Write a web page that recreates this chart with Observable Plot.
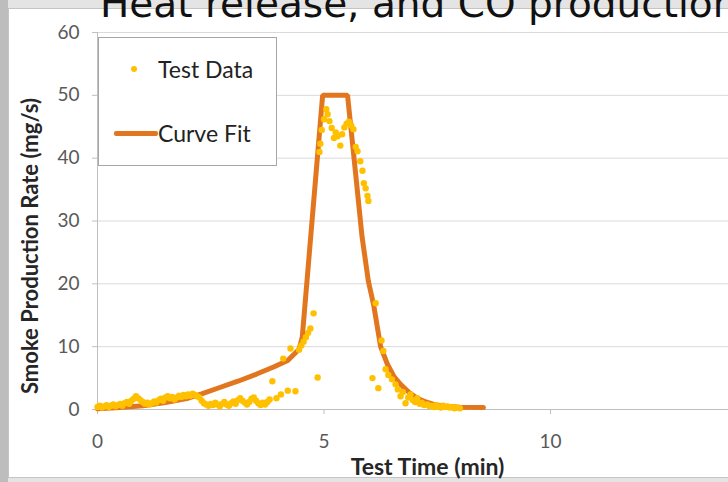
<!DOCTYPE html>
<html><head><meta charset="utf-8">
<script src="https://cdn.jsdelivr.net/npm/d3@7"></script>
<script src="https://cdn.jsdelivr.net/npm/@observablehq/plot@0.6"></script>
<style>
html,body{margin:0;padding:0;background:#fff;}
#wrap{position:relative;width:728px;height:482px;overflow:hidden;background:#e4e4e4;font-family:Lato,sans-serif;}
#strip{position:absolute;left:0;top:0;width:8px;height:482px;background:#bdbdbd;}
#panel{position:absolute;left:8px;top:8px;width:740px;height:468px;background:#fff;border:1px solid #c4c4c4;}
#chart{position:absolute;left:0;top:0;}
#chart svg{max-width:none !important;}
#title{position:absolute;left:100px;top:-16px;font-family:"DejaVu Sans",sans-serif;font-size:39px;line-height:39px;white-space:nowrap;color:#111;}
#legend{position:absolute;left:98px;top:37px;width:179px;height:129px;background:#fff;border:1px solid #a6a6a6;box-sizing:border-box;font-size:23px;color:#222;}
#legend .dot{position:absolute;left:32px;top:28px;width:6px;height:6px;border-radius:50%;background:#FFC000;}
#legend .line{position:absolute;left:15px;top:93px;width:44px;height:5px;background:#E2761F;border-radius:2px;}
#legend .t1{position:absolute;left:59px;top:17px;line-height:28px;white-space:nowrap;}
#legend .t2{position:absolute;left:59px;top:81px;line-height:28px;white-space:nowrap;}
</style></head>
<body>
<div id="wrap">
  <div id="strip"></div>
  <div id="panel"></div>
  <div id="chart"></div>
  <div id="legend"><div class="dot"></div><div class="t1"></div><div class="line"></div><div class="t2"></div></div>
  <div id="title"></div>
</div>
<script>
const titleText = "Heat release, and CO production";
const xLabel = "Test Time (min)";
const yLabel = "Smoke Production Rate (mg/s)";
const seriesNames = ["Test Data", "Curve Fit"];
const xTicks = [0, 5, 10];
const yTicks = [0, 10, 20, 30, 40, 50, 60];

// Test data (min, mg/s)
const testTime = [0.00,0.05,0.10,0.15,0.20,0.25,0.30,0.35,0.40,0.45,0.50,0.55,0.60,0.65,0.70,0.75,0.80,0.85,0.90,0.95,
  1.00,1.05,1.10,1.15,1.20,1.25,1.30,1.35,1.40,1.45,1.50,1.55,1.60,1.65,1.70,1.75,1.80,1.85,1.90,1.95,
  2.00,2.05,2.10,2.15,2.20,2.25,2.30,2.35,2.40,2.45,2.50,2.55,2.60,2.65,2.70,2.75,2.80,2.85,2.90,2.95,
  3.00,3.05,3.10,3.15,3.20,3.25,3.30,3.35,3.40,3.45,3.50,3.55,3.60,3.65,3.70,3.75,3.80,3.86,3.95,4.05,
  4.10,4.20,4.26,4.37,4.45,4.50,4.55,4.60,4.65,4.70,4.77,4.86,4.90,4.92,4.95,5.00,5.05,5.08,5.12,5.17,
  5.22,5.26,5.30,5.36,5.40,5.45,5.50,5.55,5.60,5.65,5.70,5.74,5.80,5.85,5.88,5.92,5.96,5.98,6.07,6.14,
  6.20,6.27,6.31,6.36,6.42,6.50,6.58,6.63,6.69,6.74,6.80,6.86,6.91,6.96,7.01,7.06,7.11,7.16,7.21,7.28,
  7.33,7.38,7.43,7.48,7.53,7.58,7.63,7.68,7.73,7.78,7.83,7.88,7.93,8.00];
const testRate = [0.4,0.6,0.3,0.5,0.7,0.4,0.6,0.8,0.5,0.7,0.9,0.6,1.0,1.2,0.9,1.4,1.7,2.1,1.8,1.5,
  1.2,0.9,1.1,0.8,1.0,1.3,1.1,1.5,1.7,1.4,1.9,2.1,1.8,2.0,1.6,1.9,2.2,2.0,2.3,2.1,
  2.4,2.2,2.5,2.3,2.1,1.9,1.4,1.0,0.8,0.6,0.9,0.7,1.1,0.8,0.5,0.9,1.2,0.8,0.6,1.0,
  1.3,0.9,1.5,1.8,1.4,1.1,0.8,1.2,1.7,1.9,1.4,1.0,0.7,1.1,0.8,1.2,1.6,4.5,1.8,2.4,
  8.1,3.0,9.7,2.9,9.5,10.2,10.8,11.5,12.2,12.9,15.3,5.1,41.0,42.3,44.5,46.2,47.8,47.0,45.9,44.8,
  43.2,44.1,43.5,42.0,43.8,44.9,45.5,45.8,45.2,44.6,41.8,41.1,39.5,38.0,36.0,35.2,34.0,33.2,5.0,16.9,
  3.4,11.0,9.3,6.4,5.5,4.8,4.0,3.2,2.1,2.8,1.0,1.9,2.4,1.5,1.2,1.8,0.9,1.1,0.7,0.8,
  0.5,0.6,0.4,0.7,0.5,0.3,0.6,0.4,0.5,0.3,0.4,0.2,0.3,0.2];

// Curve fit (min, mg/s)
const fitTime = [0,0.5,1.0,1.5,2.0,2.3,2.7,3.1,3.5,3.9,4.2,4.45,4.52,4.97,5.52,5.62,5.72,5.84,5.98,6.1,6.25,6.4,6.55,6.69,6.88,7.06,7.25,7.42,7.7,8.0,8.52];
const fitRate = [0.1,0.3,0.6,1.1,1.8,2.5,3.5,4.5,5.6,6.8,7.8,9.6,11.5,50,50,43,36,27.5,20.4,16.5,10,7.2,5.2,4.0,2.7,1.8,1.2,0.8,0.5,0.35,0.3];

const test = testTime.map((t, i) => ({t, v: testRate[i]}));
const fit = fitTime.map((t, i) => ({t, v: fitRate[i]}));

document.getElementById("title").textContent = titleText;
document.querySelector("#legend .t1").textContent = seriesNames[0];
document.querySelector("#legend .t2").textContent = seriesNames[1];

const plot = Plot.plot({
  width: 760, height: 482,
  marginLeft: 97, marginRight: 3, marginTop: 32, marginBottom: 73,
  style: {background: "transparent", fontFamily: "Lato, sans-serif", fontSize: "19px", color: "#595959", overflow: "visible", maxWidth: "none"},
  x: {domain: [0, 14.57], label: null},
  y: {domain: [0, 60], label: null},
  marks: [
    Plot.gridY(yTicks.filter(d => d > 0), {stroke: "#d9d9d9", strokeOpacity: 1}),
    Plot.ruleY([0], {stroke: "#bfbfbf"}),
    Plot.ruleX([0], {stroke: "#bfbfbf"}),
    Plot.axisY({ticks: yTicks, tickSize: 5, text: null, stroke: "#bfbfbf", label: null}),
    Plot.axisY({ticks: yTicks, tickSize: 0, tickPadding: 18, color: "#595959", label: null}),
    Plot.axisX({ticks: xTicks, tickSize: 5, text: null, stroke: "#bfbfbf", label: null}),
    Plot.axisX({ticks: xTicks, tickSize: 0, tickPadding: 25, color: "#595959", label: null}),
    Plot.line(fit, {x: "t", y: "v", stroke: "#E2761F", strokeWidth: 5, strokeLinejoin: "miter"}),
    Plot.dot(test, {x: "t", y: "v", r: 3.2, fill: "#FFC000", stroke: "none"}),
    Plot.text([xLabel], {frameAnchor: "bottom", lineAnchor: "middle", dy: 58, fontWeight: "bold", fontSize: 23, fill: "#262626"}),
    Plot.text([yLabel], {frameAnchor: "left", textAnchor: "middle", lineAnchor: "middle", rotate: -90, dx: -67, dy: 25, fontWeight: "bold", fontSize: 22, fill: "#262626"})
  ]
});
document.getElementById("chart").appendChild(plot);
</script>
</body></html>
